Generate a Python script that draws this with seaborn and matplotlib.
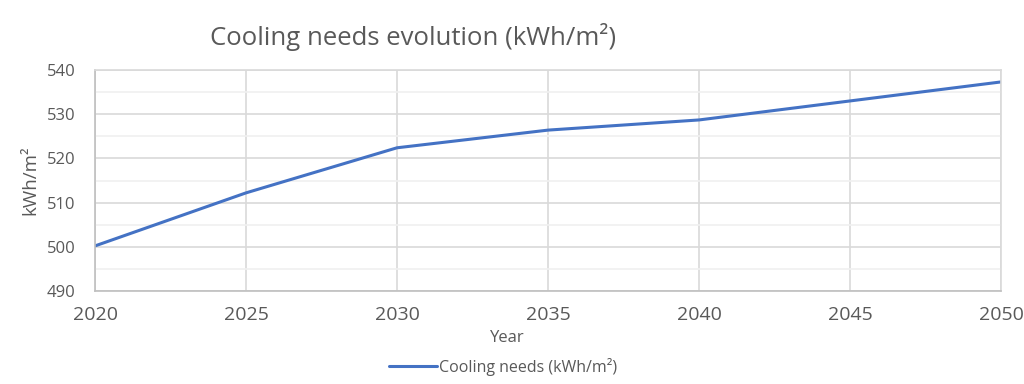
import matplotlib
matplotlib.use("Agg")
import matplotlib.pyplot as plt
import seaborn as sns
import pandas as pd

years = [2020, 2025, 2030, 2035, 2040, 2045, 2050]
cooling = [500.2, 512.2, 522.4, 526.4, 528.7, 533.0, 537.3]
series_name = "Cooling needs (kWh/m²)"
title = "Cooling needs evolution (kWh/m²)"
x_label = "Year"
y_label = "kWh/m²"

sns.set_theme(style="white")
plt.rcParams['font.family'] = ['Open Sans', 'DejaVu Sans']

txt = "#595959"
grid_major = "#d9d9d9"
grid_minor = "#f0f0f0"

df = pd.DataFrame({"Year": years, "val": cooling, "series": series_name})

fig = plt.figure(figsize=(10.24, 3.84), dpi=100)
ax = fig.add_axes([95/1024, 1 - 291/384, (1001-95)/1024, (291-70)/384])

sns.lineplot(data=df, x="Year", y="val", hue="series", palette=["#4472c4"],
             linewidth=2.2, ax=ax, legend=False)

ax.set_xlim(2020, 2050)
ax.set_ylim(490, 540)
ax.set_xticks(range(2020, 2051, 5))
ax.set_yticks(range(490, 541, 10))
ax.set_yticks(range(495, 540, 10), minor=True)
ax.grid(True, which="major", color=grid_major, linewidth=1.2)
ax.grid(True, which="minor", axis="y", color=grid_minor, linewidth=1.2)
ax.set_axisbelow(True)
for s in ax.spines.values():
    s.set_color(grid_major)
    s.set_linewidth(1.2)
ax.spines["left"].set_color("#bfbfbf")
ax.spines["bottom"].set_color("#bfbfbf")

ax.tick_params(axis="x", labelsize=14, colors=txt, length=0, pad=11)
ax.tick_params(axis="y", labelsize=12, colors=txt, length=0, pad=14)
ax.tick_params(which="minor", length=0)

ax.set_xlabel(x_label, fontsize=12, color=txt)
ax.xaxis.set_label_coords(0.455, -0.178)
ax.set_ylabel(y_label, fontsize=13.5, color=txt, labelpad=5)

fig.text(413/1024, 1 - 37/384, title, ha="center", va="center", fontsize=18.5, color=txt)

leg_handles = [plt.Line2D([0], [0], color="#4472c4", linewidth=2.2)]
fig.legend(leg_handles, [series_name], loc="center", bbox_to_anchor=(503/1024, 1 - 367/384),
           frameon=False, fontsize=11.5, labelcolor=txt, handlelength=3.0, handletextpad=0.1)

fig.savefig("out.png", dpi=100)
